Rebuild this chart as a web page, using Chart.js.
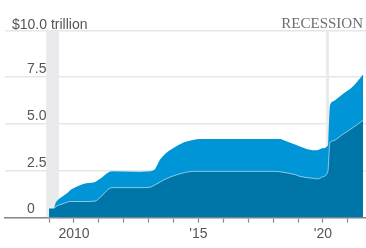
<!DOCTYPE html>
<html>
<head>
<meta charset="utf-8">
<script src="https://cdn.jsdelivr.net/npm/chart.js@4.4.1/dist/chart.umd.min.js"></script>
<style>
    html, body { margin: 0; padding: 0; background: #ffffff; }
    #wrap { width: 366px; height: 248px; }
</style>
</head>
<body>
<div id="wrap">
    <canvas id="debtChart" width="366" height="248"></canvas>
</div>
<script>

// ==========================
// DATOS
// ==========================

const fechas = [
    2009.0, 2009.2, 2009.24, 2009.36, 2009.52, 2009.72, 2009.84, 2009.96,
    2010.37, 2010.85, 2011.05, 2011.53, 2012.65, 2013.06, 2013.14, 2013.26,
    2013.46, 2013.66, 2013.98, 2014.38, 2014.78, 2015.06, 2016.67, 2017.99,
    2018.28, 2018.4, 2018.88, 2019.08, 2019.6, 2019.76, 2019.88, 2019.96,
    2020.2, 2020.24, 2020.28, 2020.4, 2020.8, 2021.2, 2021.61
];

const totalValores = [
    0.5, 0.5, 0.7, 0.95, 1.12, 1.3, 1.45, 1.55,
    1.8, 1.9, 2.07, 2.47, 2.45, 2.47, 2.5, 2.6,
    3.1, 3.4, 3.7, 4.0, 4.15, 4.2, 4.2, 4.2,
    4.2, 4.15, 3.9, 3.8, 3.6, 3.6, 3.65, 3.7,
    3.85, 5.0, 5.96, 6.2, 6.6, 7.0, 7.65
];

const baseValores = [
    0.5, 0.5, 0.55, 0.65, 0.72, 0.82, 0.86, 0.86,
    0.86, 0.88, 1.08, 1.6, 1.6, 1.62, 1.67, 1.75,
    1.9, 2.05, 2.22, 2.38, 2.47, 2.47, 2.47, 2.47,
    2.45, 2.42, 2.3, 2.2, 2.1, 2.07, 2.1, 2.17,
    2.47, 3.3, 4.0, 4.1, 4.45, 4.8, 5.2
];

const recesiones = [
    [2008.88, 2009.4],
    [2020.12, 2020.25]
];

const anios = [2009, 2010, 2011, 2012, 2013, 2014, 2015, 2016, 2017, 2018, 2019, 2020, 2021];
const etiquetasAnio = { 2010: "2010", 2015: "'15", 2020: "'20" };

const yTicks = [0, 2.5, 5, 7.5, 10];


// ==========================
// TEXTOS EXTRA
// ==========================

const textosPlugin = {

    id: "textos",

    afterDraw(chart) {

        const ctx = chart.ctx;
        const y10 = chart.scales.y.getPixelForValue(10);

        ctx.save();

        ctx.fillStyle = "#555555";
        ctx.font = "14px 'Liberation Sans', Arial, sans-serif";
        ctx.textAlign = "left";
        ctx.textBaseline = "alphabetic";
        ctx.fillText("$10.0 trillion", 12, y10 - 1);

        ctx.fillStyle = "#6e6e6e";
        ctx.font = "15px 'Liberation Serif', 'Times New Roman', serif";
        ctx.textAlign = "right";
        ctx.fillText("RECESSION", 363, y10 - 2);

        ctx.restore();

    }

};


// ==========================
// DATASETS
// ==========================

const datasets = [

    {
        label: "base",
        data: fechas.map((f, i) => ({ x: f, y: baseValores[i] })),
        backgroundColor: "#0076a8",
        borderColor: "rgba(255,255,255,0.55)",
        borderWidth: 1,
        pointRadius: 0,
        cubicInterpolationMode: "monotone",
        fill: "origin"
    },

    {
        label: "total",
        data: fechas.map((f, i) => ({ x: f, y: totalValores[i] })),
        backgroundColor: "#0095d6",
        borderWidth: 0,
        pointRadius: 0,
        cubicInterpolationMode: "monotone",
        fill: "origin"
    }

];

recesiones.forEach(r => {

    datasets.push({
        label: "recesion",
        data: [{ x: r[0], y: 10 }, { x: r[1], y: 10 }],
        backgroundColor: "#e9eaec",
        borderWidth: 0,
        pointRadius: 0,
        tension: 0,
        fill: "origin"
    });

});


// ==========================
// GRAFICO
// ==========================

new Chart(document.getElementById("debtChart"), {

    type: "line",

    data: { datasets: datasets },

    plugins: [textosPlugin],

    options: {

        responsive: false,
        devicePixelRatio: 1,
        animation: false,

        layout: {
            padding: { top: 23, left: 5, right: 0, bottom: 0 }
        },

        plugins: {
            legend: { display: false },
            tooltip: { enabled: false }
        },

        scales: {

            x: {
                type: "linear",
                min: 2007.23,
                max: 2021.73,
                afterFit: scale => { scale.height = 27; },
                afterBuildTicks: scale => {
                    scale.ticks = anios.map(v => ({ value: v }));
                },
                ticks: {
                    autoSkip: false,
                    maxRotation: 0,
                    padding: 3,
                    color: "#555555",
                    font: { family: "'Liberation Sans', Arial, sans-serif", size: 14 },
                    callback: v => etiquetasAnio[v] || ""
                },
                grid: {
                    drawOnChartArea: false,
                    tickLength: 5,
                    tickColor: "#888888",
                    tickWidth: 1.2
                },
                border: {
                    color: "#888888",
                    width: 1.5
                }
            },

            y: {
                min: 0,
                max: 10,
                afterFit: scale => { scale.width = 0; },
                afterBuildTicks: scale => {
                    scale.ticks = yTicks.map(v => ({ value: v }));
                },
                ticks: {
                    mirror: true,
                    padding: 22,
                    labelOffset: -8,
                    color: "#555555",
                    font: { family: "'Liberation Sans', Arial, sans-serif", size: 14 },
                    callback: v => v === 0 ? "0" : (v === 10 ? "" : v.toFixed(1))
                },
                grid: {
                    color: "#e6e6e6",
                    lineWidth: 1.5,
                    drawTicks: false
                },
                border: { display: false }
            }

        }

    }

});

</script>
</body>
</html>
